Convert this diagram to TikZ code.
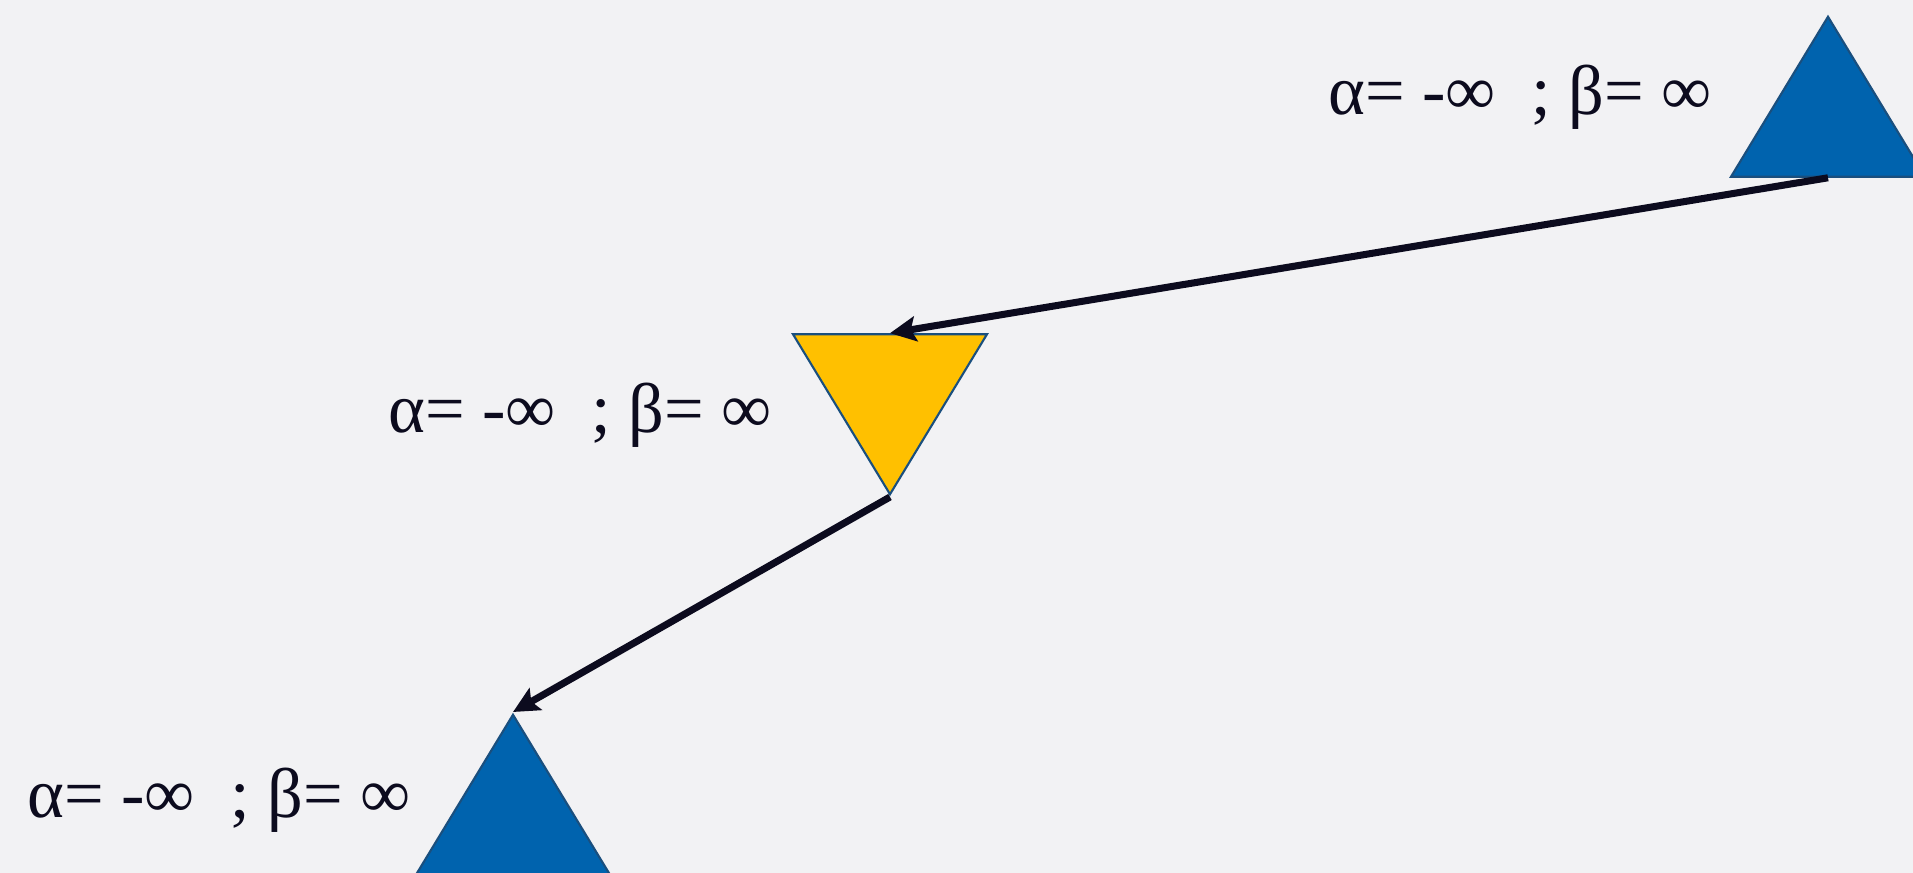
\documentclass[tikz,border=0pt]{standalone}
\usepackage{fontspec}
\setmainfont{Liberation Serif}
\usetikzlibrary{arrows.meta,positioning,shapes.geometric}
\definecolor{bgcol}{HTML}{F2F2F4}
\definecolor{triblue}{HTML}{0063AE}
\definecolor{edgeblue}{HTML}{1A4F7E}
\definecolor{triyellow}{HTML}{FFC000}
\definecolor{inkcol}{HTML}{0C0B1E}

\begin{document}
\begin{tikzpicture}[
  tri/.style={isosceles triangle, isosceles triangle stretches, inner sep=0pt,
    minimum width=1.94cm, minimum height=1.60cm, draw=edgeblue, line width=0.6pt},
  lbl/.style={inner sep=0pt, text=inkcol, font=\fontsize{20}{24}\selectfont},
  arw/.style={color=inkcol, line width=2pt, -{Stealth[length=0.26cm,width=0.25cm,inset=0.05cm]}}]
\fill[bgcol] (0,0) rectangle (19.13,-8.73);
\useasboundingbox (0,0) rectangle (19.13,-8.73);

\node[tri, fill=triblue, shape border rotate=90, anchor=apex] (up) at (18.28,-0.14) {};
\node[tri, fill=triyellow, shape border rotate=270, anchor=apex] (mid) at (8.90,-4.97) {};
\node[tri, fill=triblue, shape border rotate=90, anchor=apex] (low) at (5.13,-7.12) {};

\node[lbl, anchor=base east] (uplbl) at (17.12,-1.15) {α= -∞\ \ ; β= ∞};
\node[lbl, anchor=base east] (midlbl) at (7.72,-4.33) {α= -∞\ \ ; β= ∞};
\node[lbl, anchor=base east] (lowlbl) at (4.11,-8.18) {α= -∞\ \ ; β= ∞};

\path[arw]
(up.lower side) edge (mid.lower side)
(mid.apex) edge (low.apex)
;
\end{tikzpicture}
\end{document}
